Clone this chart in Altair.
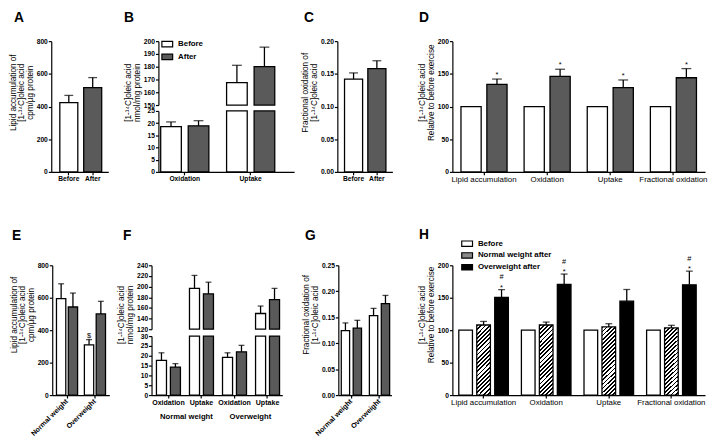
import altair as alt
import pandas as pd

FONT = "Liberation Sans"
INK = "black"
CHECK = "#5a5a5a"
HATCH_BASE = "#8a8a8a"
SW = 1.3

# ---------------- values ----------------
A_series = ["Before", "After"]
A_mean = [424, 516]
A_sem = [44, 61]

B_groups = ["Oxidation", "Uptake"]
B_series = ["Before", "After"]
B_before_mean = [18.6, 167.6]
B_before_sem = [1.9, 13.5]
B_after_mean = [18.9, 180.0]
B_after_sem = [2.1, 15.3]

C_series = ["Before", "After"]
C_mean = [0.142, 0.158]
C_sem = [0.0094, 0.012]

D_groups = ["Lipid accumulation", "Oxidation", "Uptake", "Fractional oxidation"]
D_series = ["Before", "After"]
D_before_mean = [100, 100, 100, 100]
D_after_mean = [134, 146, 129, 144]
D_after_sem = [8, 11, 11.6, 14]
D_after_sig = ["*", "*", "*", "*"]

E_groups = ["Normal weight", "Overweight"]
E_series = ["Before", "After"]
E_before_mean = [594, 310]
E_before_sem = [92, 32]
E_before_sig = ["", "$"]
E_after_mean = [543, 500]
E_after_sem = [86, 78]

F_groups = ["NW Oxidation", "NW Uptake", "OW Oxidation", "OW Uptake"]
F_weights = ["Normal weight", "Overweight"]
F_series = ["Before", "After"]
F_before_mean = [17.6, 196.5, 19.2, 149.5]
F_before_sem = [3.9, 24.5, 2.3, 14.0]
F_after_mean = [14.2, 186.3, 22.0, 175.5]
F_after_sem = [1.8, 22.0, 3.3, 21.0]

G_groups = ["Normal weight", "Overweight"]
G_series = ["Before", "After"]
G_before_mean = [0.124, 0.153]
G_before_sem = [0.015, 0.014]
G_after_mean = [0.129, 0.176]
G_after_sem = [0.015, 0.016]

H_groups = ["Lipid accumulation", "Oxidation", "Uptake", "Fractional oxidation"]
H_series = ["Before", "Normal weight after", "Overweight after"]
H_before_mean = [100, 100, 100, 100]
H_nw_mean = [108, 108, 105, 103.5]
H_nw_sem = [5.5, 4.5, 5.0, 4.0]
H_ow_mean = [150.5, 170.5, 144.7, 170.0]
H_ow_sem = [12, 16, 18, 21]
H_ow_sig1 = ["*", "*", "", "*"]
H_ow_sig2 = ["#", "#", "", "#"]

T_LIPID = ["Lipid accumulation of", "[1-\u00b9\u2074C]oleic acid", "cpm/\u00b5g protein"]
T_NMOL = ["[1-\u00b9\u2074C]oleic acid", "nmol/mg protein"]
T_FRAC = ["Fractional oxidation of", "[1-\u00b9\u2074C]oleic acid"]
T_REL = ["[1-\u00b9\u2074C]oleic acid", "Relative to before exercise"]

H1 = 133
H2 = 132
ROW1_OFF = 13
ROW2_OFF = 20


# ---------------- helpers ----------------
def frame(groups, series):
    rows = []
    for name, means, sems, sig1, sig2 in series:
        for i, g in enumerate(groups):
            sem = sems[i] if sems is not None else 0
            rows.append({"group": g, "series": name, "mean": means[i], "sem": sem,
                         "top": means[i] + sem,
                         "sig1": sig1[i] if sig1 else "",
                         "sig2": sig2[i] if sig2 else ""})
    return pd.DataFrame(rows)


def simple(names, means, sems):
    return pd.DataFrame({"group": names, "series": names, "mean": means, "sem": sems,
                         "top": [m + s for m, s in zip(means, sems)],
                         "sig1": [""] * len(names), "sig2": [""] * len(names)})


def band(domain, rng, pin, pout, align):
    return alt.Scale(domain=domain, range=rng, paddingInner=pin, paddingOuter=pout, align=align)


def inner_layout(n, rng, pin, pout, k, pin2):
    """Bar width and pixel offsets from the group centre for k bars inside one band."""
    r0, r1 = rng
    step = (r1 - r0) / (n - pin + 2 * pout)
    bw = step * (1 - pin)
    step2 = bw / (k - pin2)
    b = step2 * (1 - pin2)
    return b, [j * step2 + b / 2 - bw / 2 for j in range(k)]


def x_axis(bold=True, **kw):
    opts = dict(title=None, labelAngle=0, labelOverlap=False, labelPadding=1,
                labelFontSize=6.8 if bold else 8,
                labelFontWeight="bold" if bold else "normal")
    opts.update(kw)
    return alt.Axis(**opts)


def y_axis(title, values, d=0, fmt=None, titleY=None, **kw):
    opts = dict(title=title, values=values, orient="left", offset=-d)
    if fmt:
        opts["format"] = fmt
    if titleY is not None:
        opts["titleY"] = titleY
    opts.update(kw)
    return alt.Axis(**opts)


def letter(t, dx, offset):
    return alt.TitleParams(text=t, anchor="start", frame="group", dx=dx, offset=offset,
                           fontSize=14, fontWeight="bold", font=FONT, color=INK)


def hatch_gradient(n=20, duty=0.45, ax=0.226, ay=1.152):
    stops = []
    for k in range(n):
        a = k / n
        b = (k + duty) / n
        c = (k + 1) / n
        stops += [{"offset": a, "color": INK}, {"offset": b, "color": INK},
                  {"offset": b, "color": "white"}, {"offset": c, "color": "white"}]
    return {"gradient": "linear", "x1": 0, "y1": 0, "x2": ax, "y2": ay, "stops": stops}


def bar_stack(df, x, yscale, yaxis, fill, cap, bar_filter=None, err_filter=None,
              sig_dy=-3, sig2_dy=-10, mark_fill=None, width=None, xoff=0):
    def sel(f):
        c = alt.Chart(df)
        return c.transform_filter(f) if f else c

    bar_kw = dict(stroke=INK, strokeWidth=SW, xOffset=xoff)
    if width is not None:
        bar_kw["width"] = width
    if mark_fill is not None:
        bars = sel(bar_filter).mark_bar(fill=mark_fill, **bar_kw).encode(
            x=x, y=alt.Y("mean:Q", scale=yscale, axis=yaxis))
    else:
        bars = sel(bar_filter).mark_bar(**bar_kw).encode(
            x=x, y=alt.Y("mean:Q", scale=yscale, axis=yaxis), fill=fill)
    layers = [bars]
    ef = "datum.sem > 0" + (f" && {err_filter}" if err_filter else "")
    if (df["sem"] > 0).any():
        layers.append(sel(ef).mark_rule(color=INK, strokeWidth=SW, xOffset=xoff).encode(
            x=x, y=alt.Y("mean:Q", scale=yscale, axis=yaxis), y2="top:Q"))
        layers.append(sel(ef).mark_tick(color=INK, thickness=SW, size=cap, orient="horizontal",
                                        xOffset=xoff).encode(
            x=x, y=alt.Y("top:Q", scale=yscale, axis=yaxis)))
    if (df["sig1"] != "").any():
        layers.append(sel("datum.sig1 != ''").mark_text(
            dy=sig_dy, xOffset=xoff, baseline="alphabetic", fontSize=7.5, font=FONT, color=INK).encode(
            x=x, y=alt.Y("top:Q", scale=yscale, axis=yaxis), text="sig1:N"))
    if (df["sig2"] != "").any():
        layers.append(sel("datum.sig2 != ''").mark_text(
            dy=sig2_dy, xOffset=xoff, baseline="alphabetic", fontSize=7.5, font=FONT, color=INK).encode(
            x=x, y=alt.Y("top:Q", scale=yscale, axis=yaxis), text="sig2:N"))
    return layers


def grouped(df, series, x, width, offs, yscale, yaxis, fill, cap, hatch=None, **kw):
    out = []
    for j, s in enumerate(series):
        sub = df[df["series"] == s].reset_index(drop=True)
        mf = hatch[1] if (hatch is not None and hatch[0] == s) else None
        out += bar_stack(sub, x, yscale, yaxis, fill, cap, mark_fill=mf,
                         width=width, xoff=offs[j], **kw)
    return out


def rect_legend(x, y, row_pad):
    # wide rectangle symbol: path spans twice the nominal symbol radius horizontally
    return alt.Legend(orient="none", legendX=x, legendY=y, title=None, direction="vertical",
                      symbolType="M-2,-1H2V1H-2Z", symbolSize=30,
                      symbolStrokeColor=INK, symbolStrokeWidth=1.2,
                      labelFont=FONT, labelFontSize=8, labelFontWeight="bold", labelColor=INK,
                      labelOffset=7, rowPadding=row_pad, padding=0)


def fill_of(domain, rng, legend=None):
    return alt.Fill("series:N", scale=alt.Scale(domain=domain, range=rng), legend=legend)


# ---------------- panel A ----------------
dfA = simple(A_series, A_mean, A_sem)
xA = alt.X("group:N", scale=band(A_series, [0, 58], 0.247, 0.317, 0.565), axis=x_axis())
A = alt.layer(*bar_stack(dfA, xA, alt.Scale(domain=[0, 800], nice=False),
                         y_axis(T_LIPID, [0, 200, 400, 600, 800], titleY=52),
                         fill_of(A_series, ["white", CHECK]), cap=9)
              ).properties(width=58, height=H1, title=letter("A", -38, ROW1_OFF))

# ---------------- panel B (broken axis) ----------------
dfB = frame(B_groups, [("Before", B_before_mean, B_before_sem, None, None),
                       ("After", B_after_mean, B_after_sem, None, None)])
B_lay = ([7, 145], 0.269, 0.164, 0.105)
wB, oB = inner_layout(2, B_lay[0], B_lay[1], B_lay[2], 2, 0.25)
xB = alt.X("group:N", scale=band(B_groups, *B_lay), axis=x_axis())
fillB = fill_of(B_series, ["white", CHECK], rect_legend(12, -1, 1))
B_up = alt.layer(*grouped(dfB, B_series, xB, wB, oB,
                          alt.Scale(domain=[150, 200], range=[65, 0], clamp=True, nice=False, zero=False),
                          y_axis(T_NMOL, [150, 160, 170, 180, 190, 200], d=7, titleY=52), fillB, 10,
                          bar_filter="datum.mean > 150", err_filter="datum.mean > 150"))
B_lo = alt.layer(*grouped(dfB, B_series, xB, wB, oB,
                          alt.Scale(domain=[0, 25], range=[H1, 71], clamp=True, nice=False),
                          y_axis(None, [0, 5, 10, 15, 20, 25], d=7), fillB, 10,
                          err_filter="datum.top <= 25"))
B = alt.layer(B_up, B_lo).resolve_scale(y="independent").properties(
    width=145, height=H1, title=letter("B", -28, ROW1_OFF))

# ---------------- panel C ----------------
dfC = simple(C_series, C_mean, C_sem)
xC = alt.X("group:N", scale=band(C_series, [1, 57], 0.224, 0.293, 0.525), axis=x_axis())
C = alt.layer(*bar_stack(dfC, xC, alt.Scale(domain=[0, 0.2], nice=False),
                         y_axis(T_FRAC, [0, 0.05, 0.10, 0.15, 0.20], d=1, fmt=".2f", titleY=52),
                         fill_of(C_series, ["white", CHECK]), cap=9)
              ).properties(width=57, height=H1, title=letter("C", -33, ROW1_OFF))

# ---------------- panel D ----------------
dfD = frame(D_groups, [("Before", D_before_mean, None, None, None),
                       ("After", D_after_mean, D_after_sem, D_after_sig, None)])
D_lay = ([18, 275], 0.27, 0.136, 0.5)
wD, oD = inner_layout(4, D_lay[0], D_lay[1], D_lay[2], 2, 0.22)
xD = alt.X("group:N", scale=band(D_groups, *D_lay), axis=x_axis(bold=False))
D = alt.layer(*grouped(dfD, D_series, xD, wD, oD, alt.Scale(domain=[0, 200], nice=False),
                       y_axis(T_REL, [0, 50, 100, 150, 200], d=18, titleY=52),
                       fill_of(D_series, ["white", CHECK]), 10, sig_dy=-2)
              ).properties(width=275, height=H1, title=letter("D", -16, ROW1_OFF))

# ---------------- panel E ----------------
dfE = frame(E_groups, [("Before", E_before_mean, E_before_sem, E_before_sig, None),
                       ("After", E_after_mean, E_after_sem, None, None)])
rot = dict(labelAngle=315, labelAlign="right", labelBaseline="middle", labelPadding=2, labelFontSize=7.2)
E_lay = ([1, 59], 0.243, 0.143, 0.53)
wE, oE = inner_layout(2, E_lay[0], E_lay[1], E_lay[2], 2, 0.21)
xE = alt.X("group:N", scale=band(E_groups, *E_lay), axis=x_axis(**rot))
E = alt.layer(*grouped(dfE, E_series, xE, wE, oE, alt.Scale(domain=[0, 800], nice=False),
                       y_axis(T_LIPID, [0, 200, 400, 600, 800], d=1, titleY=50),
                       fill_of(E_series, ["white", CHECK]), 6, sig_dy=-2)
              ).properties(width=59, height=H2, title=letter("E", -40, ROW2_OFF))

# ---------------- panel F (broken axis) ----------------
dfF = frame(F_groups, [("Before", F_before_mean, F_before_sem, None, None),
                       ("After", F_after_mean, F_after_sem, None, None)])
F_lay = ([0, 133], 0.274, 0.116, 0.64)
wF, oF = inner_layout(4, F_lay[0], F_lay[1], F_lay[2], 2, 0.28)
xF = alt.X("group:N", scale=band(F_groups, *F_lay),
           axis=x_axis(labelExpr="slice(datum.label, 3)", labelFontSize=7.2))
fillF = fill_of(F_series, ["white", CHECK])
F_up = alt.layer(*grouped(dfF, F_series, xF, wF, oF,
                          alt.Scale(domain=[120, 240], range=[65, 0], clamp=True, nice=False, zero=False),
                          y_axis(T_NMOL, [120, 140, 160, 180, 200, 220, 240], titleY=50), fillF, 6,
                          bar_filter="datum.mean > 120", err_filter="datum.mean > 120"))
F_lo = alt.layer(*grouped(dfF, F_series, xF, wF, oF,
                          alt.Scale(domain=[0, 30], range=[H2, 72], clamp=True, nice=False),
                          y_axis(None, [0, 5, 10, 15, 20, 25, 30]), fillF, 6,
                          err_filter="datum.top <= 30"))
F_wt = alt.Chart(pd.DataFrame({"w": F_weights})).mark_point(opacity=0).encode(
    x=alt.X("w:N", scale=alt.Scale(domain=F_weights, range=[2.5, 132.5], paddingInner=0, paddingOuter=0),
            axis=alt.Axis(orient="bottom", offset=17, domain=False, ticks=False, labelAngle=0,
                          labelFontSize=7.8, labelFontWeight="bold", labelPadding=1, title=None)),
    y=alt.value(0))
F_main = alt.layer(F_up, F_lo).resolve_scale(y="independent")
F = alt.layer(F_main, F_wt).resolve_scale(x="independent", y="independent").properties(
    width=133, height=H2, title=letter("F", -29, ROW2_OFF))

# ---------------- panel G ----------------
dfG = frame(G_groups, [("Before", G_before_mean, G_before_sem, None, None),
                       ("After", G_after_mean, G_after_sem, None, None)])
G_lay = ([2, 56], 0.28, 0.084, 0.62)
wG, oG = inner_layout(2, G_lay[0], G_lay[1], G_lay[2], 2, 0.30)
xG = alt.X("group:N", scale=band(G_groups, *G_lay), axis=x_axis(**rot))
G = alt.layer(*grouped(dfG, G_series, xG, wG, oG, alt.Scale(domain=[0, 0.25], nice=False),
                       y_axis(T_FRAC, [0, 0.05, 0.10, 0.15, 0.20, 0.25], d=2, fmt=".2f", titleY=50),
                       fill_of(G_series, ["white", CHECK]), 6)
              ).properties(width=56, height=H2, title=letter("G", -32, ROW2_OFF))

# ---------------- panel H ----------------
dfH = frame(H_groups, [("Before", H_before_mean, None, None, None),
                       ("Normal weight after", H_nw_mean, H_nw_sem, None, None),
                       ("Overweight after", H_ow_mean, H_ow_sem, H_ow_sig1, H_ow_sig2)])
H_lay = ([18, 275], 0.208, 0.122, 0.42)
wH, oH = inner_layout(4, H_lay[0], H_lay[1], H_lay[2], 3, 0.24)
xH = alt.X("group:N", scale=band(H_groups, *H_lay), axis=x_axis(bold=False))
fillH = fill_of(H_series, ["white", HATCH_BASE, INK], rect_legend(29, -26, 0))
H = alt.layer(*grouped(dfH, H_series, xH, wH, oH, alt.Scale(domain=[0, 200], nice=False),
                       y_axis(T_REL, [0, 50, 100, 150, 200], d=18, titleY=50), fillH, 7,
                       sig_dy=0, sig2_dy=-10.5, hatch=("Normal weight after", hatch_gradient()))
              ).properties(width=275, height=H2, title=letter("H", -16, -2))

chart = alt.concat(A, B, C, D, E, F, G, H, columns=4,
                   spacing={"row": 95, "column": 43}, bounds="flush", align="each"
                   ).resolve_scale(fill="independent").properties(
    padding=0, background="white"
).configure_view(stroke=None).configure_axis(
    domainColor=INK, domainWidth=1.2, tickColor=INK, tickWidth=1.2, tickSize=3,
    labelColor=INK, labelFont=FONT, labelFontSize=6.8, labelFontWeight="bold",
    labelPadding=1, grid=False, titleFont=FONT, titleFontSize=8.3,
    titleFontWeight="normal", titleColor=INK, titlePadding=2, titleLineHeight=8.7
)

chart.save("out.html", embed_options={"renderer": "svg", "actions": False})
